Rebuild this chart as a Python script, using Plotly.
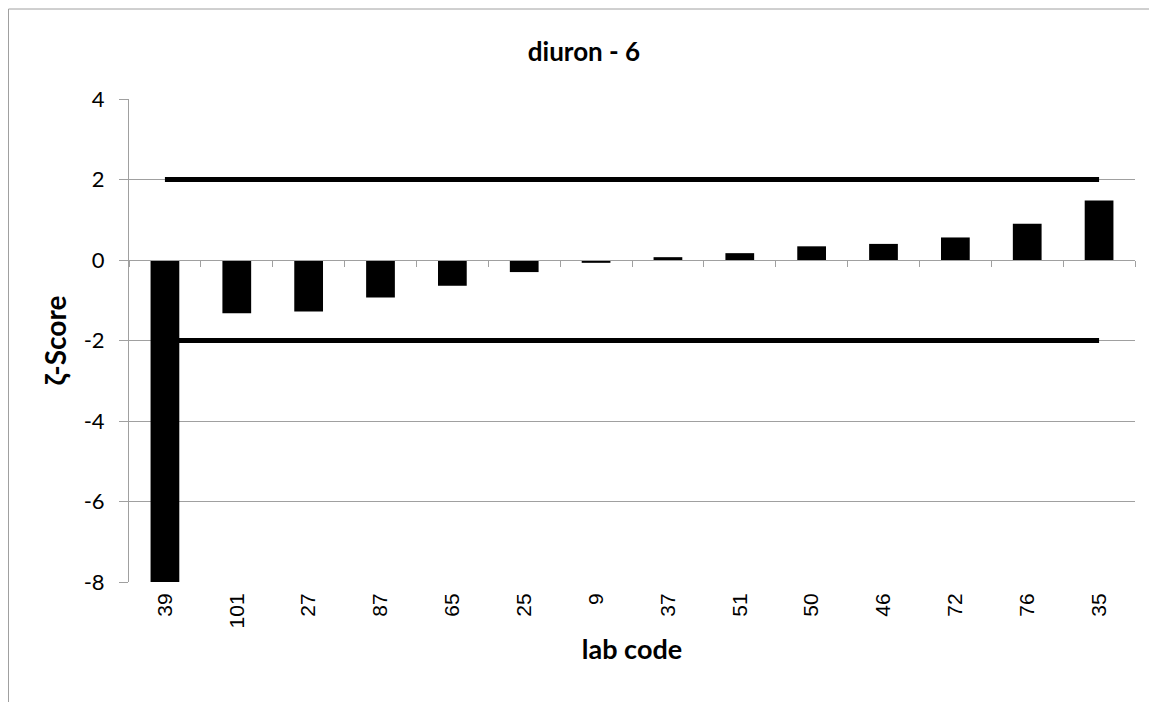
import plotly.graph_objects as go

# lab codes and zeta scores
labs = ['39', '101', '27', '87', '65', '25', '9', '37', '51', '50', '46', '72', '76', '35']
scores = [-8.5, -1.32, -1.28, -0.93, -0.64, -0.30, -0.07, 0.07, 0.17, 0.34, 0.40, 0.56, 0.90, 1.48]
upper = [2] * len(labs)
lower = [-2] * len(labs)
yticks = [-8, -6, -4, -2, 0, 2, 4]
yticktext = ['-8', '-6', '-4', '-2', '0', '2', '4']

grid = '#a0a0a0'
n = len(labs)

fig = go.Figure()

fig.add_trace(go.Bar(
    x=labs, y=scores,
    width=0.4,
    marker_color='black',
    marker_line_width=0,
    showlegend=False
))

fig.add_trace(go.Scatter(x=labs, y=upper, mode='lines',
                         line=dict(color='black', width=5), showlegend=False))
fig.add_trace(go.Scatter(x=labs, y=lower, mode='lines',
                         line=dict(color='black', width=5), showlegend=False))

# invisible trace so the axis at y=0 gets drawn with boundary ticks
fig.add_trace(go.Scatter(x=labs, y=[0] * n, mode='lines',
                         line=dict(width=0), opacity=0, xaxis='x2',
                         showlegend=False, hoverinfo='skip'))

fig.update_layout(
    width=1157, height=702,
    paper_bgcolor='white', plot_bgcolor='white',
    margin=dict(l=121, r=30, t=91, b=128),
    font=dict(family='Lato', color='black'),
    title=dict(text='<b>diuron - 6</b>', x=576 / 1157, xref='container', xanchor='center',
               y=1 - 44 / 702, yref='container', yanchor='middle', font=dict(size=26)),
    xaxis=dict(
        type='category',
        categoryorder='array', categoryarray=labs,
        range=[-0.5, n - 0.5],
        tickangle=-90,
        tickfont=dict(family='Liberation Sans', size=21),
        ticks='outside', ticklen=2, tickcolor='rgba(0,0,0,0)',
        showgrid=False, showline=False, zeroline=False,
        title=dict(text='<b>lab code</b>', font=dict(size=27), standoff=12),
    ),
    xaxis2=dict(
        type='category',
        categoryorder='array', categoryarray=labs,
        range=[-0.5, n - 0.5],
        overlaying='x',
        anchor='free', position=8 / 12,
        showticklabels=False,
        ticks='outside', ticklen=6, tickcolor=grid, tickwidth=1,
        tickson='boundaries',
        showline=True, linecolor=grid, linewidth=1,
        showgrid=False, zeroline=False,
    ),
    yaxis=dict(
        range=[-8, 4],
        tickvals=yticks, ticktext=yticktext,
        tickfont=dict(size=22),
        ticks='outside', ticklen=9, tickcolor=grid,
        ticklabelstandoff=10,
        showgrid=True, gridcolor=grid, gridwidth=1,
        zeroline=True, zerolinecolor=grid, zerolinewidth=1,
        showline=True, linecolor=grid, linewidth=1,
        title=dict(text='<b>ζ-Score</b>', font=dict(size=28), standoff=8),
    ),
)

# chart area border (top and left edges visible)
top = (574 - 1) / 483
left = (0.5 - 121) / 1006
fig.add_shape(type='line', xref='paper', yref='paper',
              x0=left, x1=1.05, y0=top, y1=top,
              line=dict(color=grid, width=1))
fig.add_shape(type='line', xref='paper', yref='paper',
              x0=left, x1=left, y0=-0.3, y1=top,
              line=dict(color=grid, width=1))

fig.write_html("out.html")
